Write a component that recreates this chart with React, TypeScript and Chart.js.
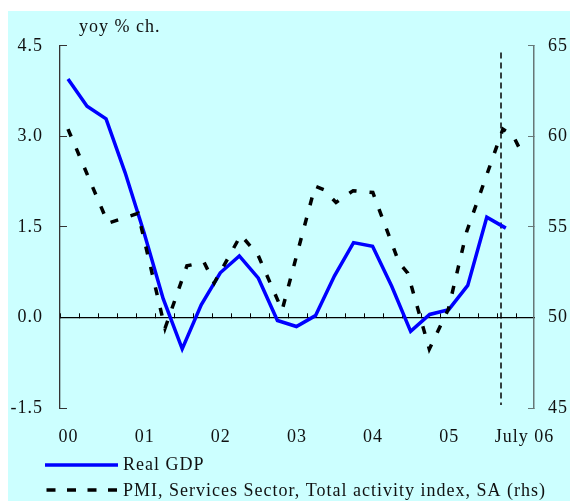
import React, { useEffect, useRef } from 'react';
import { Chart, registerables } from 'chart.js';

Chart.register(...registerables);

// ---------- data ----------
// Real GDP, yoy % change, quarterly 2000Q1 .. 2005Q4
const quarters = [
  '2000Q1', '2000Q2', '2000Q3', '2000Q4',
  '2001Q1', '2001Q2', '2001Q3', '2001Q4',
  '2002Q1', '2002Q2', '2002Q3', '2002Q4',
  '2003Q1', '2003Q2', '2003Q3', '2003Q4',
  '2004Q1', '2004Q2', '2004Q3', '2004Q4',
  '2005Q1', '2005Q2', '2005Q3', '2005Q4',
];
const gdpValues = [
  3.95, 3.5, 3.29, 2.4,
  1.4, 0.31, -0.52, 0.21,
  0.74, 1.02, 0.65, -0.05,
  -0.15, 0.03, 0.69, 1.24,
  1.18, 0.52, -0.23, 0.05,
  0.13, 0.53, 1.66, 1.48,
];

// PMI services, total activity index (rhs); x = months since Jan 2000
const pmiMonths = [
  1.26, 7.57, 12.29, 16.55, 20.0, 22.7, 24.3, 28.5, 31.2, 35.0,
  40.2, 41.6, 43.5, 46.2, 49.3, 53.4, 54.8, 58.2, 61.2, 64.1,
  69.8, 71.4, 73.1,
];
const pmiValues = [
  60.4, 55.2, 55.75, 49.4, 52.85, 53.05, 51.9, 54.55, 53.45, 50.4,
  57.25, 57.05, 56.35, 57.0, 56.9, 53.05, 52.45, 48.25, 50.45, 54.75,
  60.4, 60.05, 58.85,
];

// axes
const xTickMonths = [1.34, 13.34, 25.34, 37.34, 49.34, 61.34, 73.2];
const xTickLabels = ['00', '01', '02', '03', '04', '05', 'July 06'];
const quarterTickMonths = [0, 3, 6, 9, 12, 15, 18, 21, 24, 27, 30, 33, 36, 39, 42, 45, 48, 51, 54, 57, 60, 63, 66, 69, 72];
const leftTicks = [-1.5, 0, 1.5, 3, 4.5];
const rightTicks = [45, 50, 55, 60, 65];
const xMin = 0;
const xMax = 74.7;

// vertical "July 06" marker
const markerMonth = 69.5;
const markerLow = -1.45;
const markerHigh = 4.39;

const FONT = "'Liberation Serif', 'Times New Roman', serif";
const TEXT = '#111111';

const gdpLabel = 'Real GDP';
const pmiLabel = 'PMI, Services Sector, Total activity index, SA (rhs)';
const unitLabel = 'yoy % ch.';

const decor = {
  id: 'decor',
  beforeUpdate(chart: any) {
    chart.ctx.letterSpacing = '1px';
  },
  beforeDraw(chart: any) {
    chart.ctx.letterSpacing = '1px';
  },
  afterDraw(chart: any) {
    const ctx = chart.ctx;
    ctx.save();
    ctx.letterSpacing = '1px';
    ctx.font = `18px ${FONT}`;
    ctx.fillStyle = TEXT;
    ctx.textAlign = 'left';
    ctx.textBaseline = 'alphabetic';
    ctx.fillText(unitLabel, 71, 21);

    // legend
    ctx.lineWidth = 3.5;
    ctx.lineCap = 'butt';
    ctx.strokeStyle = '#0000FF';
    ctx.setLineDash([]);
    ctx.beginPath();
    ctx.moveTo(37, 454);
    ctx.lineTo(110, 454);
    ctx.stroke();
    ctx.fillText(gdpLabel, 115, 459);

    ctx.strokeStyle = '#000000';
    ctx.setLineDash([9, 11.5]);
    ctx.beginPath();
    ctx.moveTo(38.5, 479);
    ctx.lineTo(110, 479);
    ctx.stroke();
    ctx.setLineDash([]);
    ctx.fillText(pmiLabel, 115, 484.5);
    ctx.restore();
  },
};

export default function App() {
  const ref = useRef<HTMLCanvasElement | null>(null);

  useEffect(() => {
    if (!ref.current) return;
    const gdpData = gdpValues.map((v, i) => ({ x: i * 3 + 1.26, y: v }));
    const pmiData = pmiValues.map((v, i) => ({ x: pmiMonths[i], y: v }));
    const markerData = [
      { x: markerMonth, y: markerHigh },
      { x: markerMonth, y: markerLow },
    ];

    const chart = new Chart(ref.current, {
      type: 'line',
      data: {
        datasets: [
          {
            label: pmiLabel,
            data: pmiData,
            xAxisID: 'x',
            yAxisID: 'y1',
            borderColor: '#000000',
            borderWidth: 3.5,
            borderDash: [8, 13],
            pointRadius: 0,
            tension: 0,
            fill: false,
          },
          {
            label: gdpLabel,
            data: gdpData,
            xAxisID: 'x',
            yAxisID: 'y',
            borderColor: '#0000FF',
            borderWidth: 3.5,
            pointRadius: 0,
            tension: 0,
            fill: false,
          },
          {
            label: 'marker',
            data: markerData,
            xAxisID: 'x',
            yAxisID: 'y',
            borderColor: '#000000',
            borderWidth: 1.5,
            borderDash: [6, 4],
            pointRadius: 0,
            tension: 0,
            fill: false,
          },
        ],
      },
      options: {
        animation: false,
        responsive: true,
        maintainAspectRatio: false,
        layout: { padding: { top: 25, left: 0, right: 0, bottom: 0 } },
        plugins: {
          legend: { display: false },
          tooltip: { enabled: false },
          title: { display: false },
        },
        scales: {
          x: {
            type: 'linear',
            position: 'bottom',
            min: xMin,
            max: xMax,
            afterBuildTicks: (s: any) => {
              s.ticks = xTickMonths.map((v) => ({ value: v }));
            },
            afterFit: (s: any) => {
              s.height = 93;
            },
            grid: { display: false },
            border: { display: false },
            ticks: {
              autoSkip: false,
              maxRotation: 0,
              padding: 10,
              color: TEXT,
              font: { family: FONT, size: 18 },
              callback: (_v: any, i: number) => xTickLabels[i],
            },
          },
          x0: {
            type: 'linear',
            axis: 'x',
            position: { y: 0 },
            min: xMin,
            max: xMax,
            afterBuildTicks: (s: any) => {
              s.ticks = quarterTickMonths.map((v) => ({ value: v }));
            },
            grid: {
              display: true,
              drawOnChartArea: false,
              drawTicks: true,
              tickLength: -5,
              color: '#000000',
              lineWidth: 1,
            },
            border: { display: true, color: '#000000', width: 1.3 },
            ticks: { display: false },
          },
          y: {
            type: 'linear',
            position: 'left',
            min: -1.5,
            max: 4.5,
            afterBuildTicks: (s: any) => {
              s.ticks = leftTicks.map((v) => ({ value: v }));
            },
            afterFit: (s: any) => {
              s.width = 52;
            },
            grid: {
              drawOnChartArea: false,
              drawTicks: true,
              tickLength: -7,
              color: '#333333',
              lineWidth: 1,
            },
            border: { display: true, color: '#333333', width: 1.3 },
            ticks: {
              padding: 24,
              color: TEXT,
              font: { family: FONT, size: 18 },
              callback: (v: any) => Number(v).toFixed(1),
            },
          },
          y1: {
            type: 'linear',
            position: 'right',
            min: 45,
            max: 65,
            afterBuildTicks: (s: any) => {
              s.ticks = rightTicks.map((v) => ({ value: v }));
            },
            afterFit: (s: any) => {
              s.width = 36;
            },
            grid: {
              drawOnChartArea: false,
              drawTicks: true,
              tickLength: -6,
              color: '#667777',
              lineWidth: 1,
            },
            border: { display: true, color: '#667777', width: 1.5 },
            ticks: {
              padding: 20,
              color: TEXT,
              font: { family: FONT, size: 18 },
              callback: (v: any) => String(v),
            },
          },
        },
      },
      plugins: [decor],
    } as any);

    return () => chart.destroy();
  }, []);

  return (
    <div
      style={{
        position: 'absolute',
        left: 8,
        top: 11,
        width: 562,
        height: 490,
        background: '#CCFFFF',
      }}
    >
      <canvas ref={ref} />
    </div>
  );
}
